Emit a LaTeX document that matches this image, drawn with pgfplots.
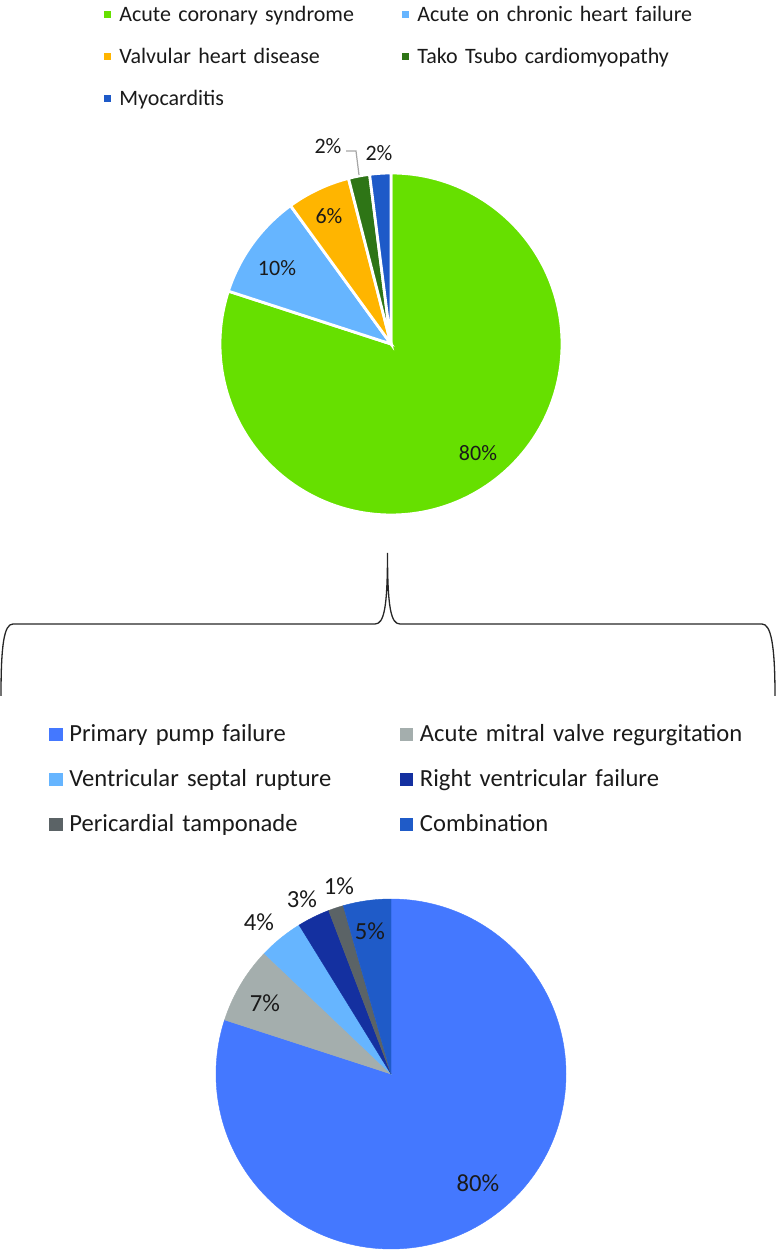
\documentclass[border=0pt]{standalone}
\usepackage{pgfplots}
\pgfplotsset{compat=1.18}
\usepackage{fontspec}
\setmainfont{Carlito}

% top pie
\definecolor{acs}{HTML}{66E000}
\definecolor{achf}{HTML}{66B5FF}
\definecolor{valv}{HTML}{FFB500}
\definecolor{tako}{HTML}{2E7516}
\definecolor{myo}{HTML}{1E5AC8}
% bottom pie
\definecolor{pump}{HTML}{4478FF}
\definecolor{mitral}{HTML}{A4AEAD}
\definecolor{vsr}{HTML}{66B5FF}
\definecolor{rvf}{HTML}{1430A0}
\definecolor{tamp}{HTML}{5B6366}
\definecolor{comb}{HTML}{1F5BC8}
\definecolor{txt}{HTML}{1A1A1A}

% one wedge per data point: starts at 12 o'clock, runs clockwise
\pgfdeclareplotmark{pieslice}{%
  \pgfkeys{/pgf/fpu=false}%
  \pgfmathsetmacro\pieA{90-3.6*\slicefrom}%
  \pgfmathsetmacro\pieB{90-3.6*(\slicefrom+\slicepct)}%
  \pgfpathmoveto{\pgfpointorigin}%
  \pgfpathlineto{\pgfpointpolar{\pieA}{\pieR}}%
  \pgfpatharc{\pieA}{\pieB}{\pieR}%
  \pgfpathclose
  \pgfusepathqfillstroke
}

\pgfplotsset{
  slice/.style={only marks, mark=pieslice, color=#1,
    visualization depends on={value \thisrow{from} \as \slicefrom},
    visualization depends on={value \thisrow{pct} \as \slicepct}},
  toppie/.style={slice=#1, mark options={fill=#1, draw=white, line width=1.4pt}},
  botpie/.style={slice=#1, mark options={fill=#1, draw=#1, line width=0.2pt}},
  pieaxis/.style={hide axis, clip=false, x=0.5pt, y=0.5pt,
    xmin=-391, xmax=385, at={(0pt,0pt)}, anchor=south west,
    legend columns=2, legend cell align=left},
}

\begin{document}
\begin{tikzpicture}
\path[use as bounding box] (0pt,0pt) rectangle (388pt,625pt);

\def\pieR{85.5pt}
\begin{axis}[pieaxis, ymin=-906, ymax=344,
  legend style={at={(0.13402,0.99544)}, anchor=north west,
    draw=none, fill=none, inner sep=0pt, text=txt,
    font=\fontsize{11}{13}\selectfont, row sep=11pt,
    nodes={inner sep=0pt, text height=7.5pt, text depth=2.5pt,
      text width=141.5pt, align=left},
    /tikz/every odd column/.style={column sep=4pt}},
  legend image code/.code={\fill[#1, draw=none] (0pt,-0.9pt) rectangle (3.5pt,2.6pt);},
]
\addplot[toppie=acs] table {
x y from pct
0 0 0 80
};
\addlegendentry{Acute coronary syndrome}
\addplot[toppie=achf] table {
x y from pct
0 0 80 10
};
\addlegendentry{Acute on chronic heart failure}
\addplot[toppie=valv] table {
x y from pct
0 0 90 6
};
\addlegendentry{Valvular heart disease}
\addplot[toppie=tako] table {
x y from pct
0 0 96 2
};
\addlegendentry{Tako Tsubo cardiomyopathy}
\addplot[toppie=myo] table {
x y from pct
0 0 98 2
};
\addlegendentry{Myocarditis}
\end{axis}

\def\pieR{87.5pt}
\begin{axis}[pieaxis, ymin=-176, ymax=1074,
  legend style={at={(0.06314,0.42104)}, anchor=north west,
    draw=none, fill=none, inner sep=0pt, text=txt,
    font=\fontsize{12.3}{14}\selectfont, row sep=11pt,
    nodes={inner sep=0pt, text height=8.5pt, text depth=3pt,
      text width=165.3pt, align=left},
    /tikz/every odd column/.style={column sep=3.3pt}},
  legend image code/.code={\fill[#1, draw=none] (0pt,-2.75pt) rectangle (6.7pt,3.75pt);},
]
\addplot[botpie=pump] table {
x y from pct
0 0 0 80
};
\addlegendentry{Primary pump failure}
\addplot[botpie=mitral] table {
x y from pct
0 0 80 7.1
};
\addlegendentry{Acute mitral valve regurgitation}
\addplot[botpie=vsr] table {
x y from pct
0 0 87.1 4.1
};
\addlegendentry{Ventricular septal rupture}
\addplot[botpie=rvf] table {
x y from pct
0 0 91.2 3.0
};
\addlegendentry{Right ventricular failure}
\addplot[botpie=tamp] table {
x y from pct
0 0 94.2 1.4
};
\addlegendentry{Pericardial tamponade}
\addplot[botpie=comb] table {
x y from pct
0 0 95.6 4.4
};
\addlegendentry{Combination}
\end{axis}

% labels, leader line and brace, in pixel units of the reference
\begin{scope}[x=0.5pt, y=-0.5pt, shift={(0pt,625pt)},
  every node/.style={text=txt, inner sep=0pt, text depth=0pt}]
  \begin{scope}[font=\fontsize{11}{13}\selectfont]
    \node at (478,453) {80\%};
    \node at (277,268) {10\%};
    \node at (329,216) {6\%};
    \node at (328,146) {2\%};
    \node at (379,153) {2\%};
  \end{scope}
  \draw[color=black!35, line width=0.6pt] (346,151) -- (356,151) -- (359,175);
  \begin{scope}[font=\fontsize{12.3}{14}\selectfont]
    \node at (478,1183) {80\%};
    \node at (265,1003) {7\%};
    \node at (259,922) {4\%};
    \node at (302,899) {3\%};
    \node at (339,886) {1\%};
    \node at (370,931) {5\%};
  \end{scope}
  \draw[line width=0.65pt, black!85]
    (1,696) .. controls (1,645) and (4,624) .. (13,624) -- (375,624)
    .. controls (384,624) and (387.5,608) .. (387.5,553)
    .. controls (387.5,608) and (391,624) .. (400,624) -- (762,624)
    .. controls (771,624) and (775,645) .. (775,696);
\end{scope}
\end{tikzpicture}
\end{document}
